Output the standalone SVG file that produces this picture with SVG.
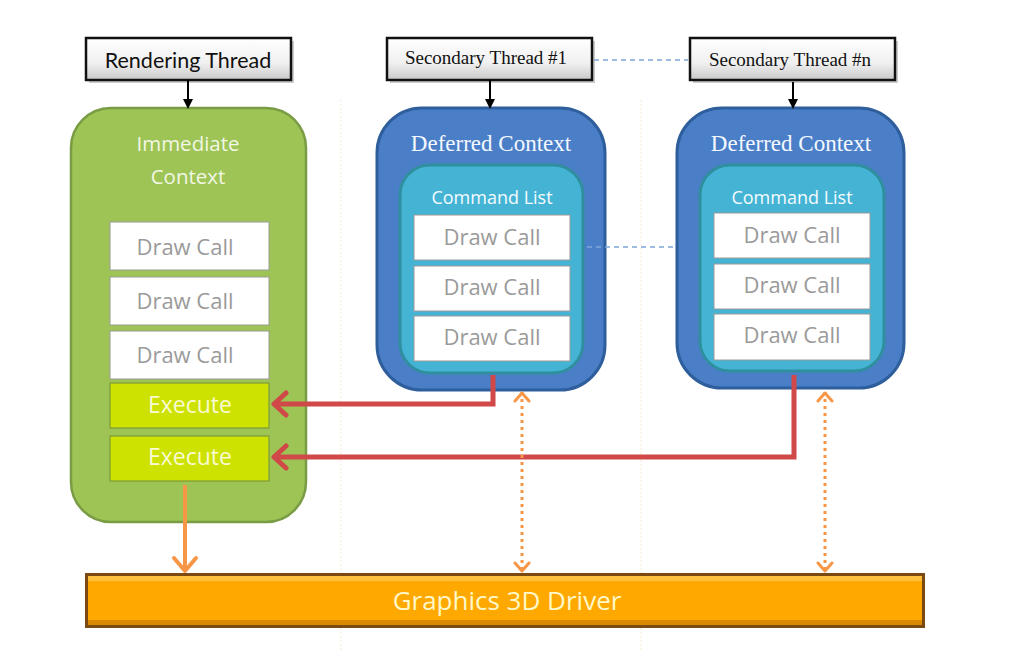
<svg xmlns="http://www.w3.org/2000/svg" width="1029" height="670" viewBox="0 0 1029 670">
<defs>
<linearGradient id="thr" x1="0" y1="0" x2="0" y2="1">
<stop offset="0" stop-color="#ffffff"/><stop offset="0.6" stop-color="#f0f0f0"/><stop offset="1" stop-color="#c8c8c8"/>
</linearGradient>
<marker id="blk" markerWidth="10" markerHeight="10" refX="5" refY="5" orient="auto" markerUnits="userSpaceOnUse">
<path d="M0,0 L10,5 L0,10 z" fill="#000"/>
</marker>
<marker id="red" markerWidth="22" markerHeight="28" refX="18" refY="14" orient="auto" markerUnits="userSpaceOnUse">
<path d="M6,3 L18,14 L6,25" fill="none" stroke="#d04848" stroke-width="5" stroke-linecap="round" stroke-linejoin="round"/>
</marker>
<marker id="org" markerWidth="24" markerHeight="28" refX="19" refY="14" orient="auto" markerUnits="userSpaceOnUse">
<path d="M6,3 L19,14 L6,25" fill="none" stroke="#f79646" stroke-width="4" stroke-linecap="round" stroke-linejoin="round"/>
</marker>
<marker id="orgd" markerWidth="20" markerHeight="18" refX="16" refY="9" orient="auto-start-reverse" markerUnits="userSpaceOnUse">
<path d="M7,2 L15,9 L7,16" fill="none" stroke="#f79646" stroke-width="3" stroke-linecap="round" stroke-linejoin="round"/>
</marker>
</defs>
<style>
.thr{fill:url(#thr);stroke:#111;stroke-width:2.5}
.ts{font-family:Lato,"Liberation Sans",sans-serif;font-size:21.5px;fill:#111;text-anchor:middle}
.tserif{font-family:"Liberation Serif",serif;font-size:19px;fill:#111;text-anchor:middle}
.dc{fill:#fff;stroke:#9a9a9a;stroke-width:1}
.dct{font-family:"Open Sans","Liberation Sans",sans-serif;font-size:22px;fill:#9a9a9a;text-anchor:middle}
.ex{fill:#cde200;stroke:#7e9a3a;stroke-width:1.2}
.ext{font-family:"Open Sans","Liberation Sans",sans-serif;font-size:23px;fill:#fafad2;text-anchor:middle}
.dcx{fill:#4a7fc8;stroke:#2f5e9c;stroke-width:3}
.cl{fill:#45b4d4;stroke:#2f8f9f;stroke-width:3}
.dctit{font-family:"Liberation Serif",serif;font-size:23px;fill:#f4f8ff;text-anchor:middle}
.clt{font-family:"Open Sans","Liberation Sans",sans-serif;font-size:18px;fill:#f4fbff;text-anchor:middle}
.imt{font-family:"Open Sans","Liberation Sans",sans-serif;font-size:20.5px;fill:#f2f6e4;text-anchor:middle}
.sep{stroke:#f6ecd2;stroke-width:1;stroke-dasharray:2 2;fill:none}
</style>
<rect x="0" y="0" width="1029" height="670" fill="#fff"/>
<line class="sep" x1="341" y1="100" x2="341" y2="650"/>
<line class="sep" x1="641" y1="100" x2="641" y2="650"/>

<g id="rendering-thread">
<rect x="89" y="41" width="205" height="42" fill="#999" opacity="0.5"/>
<rect class="thr" x="86" y="38" width="205" height="42"/>
<text class="ts" x="188" y="68">Rendering Thread</text>
</g>
<g id="secondary-thread-1">
<rect x="390" y="41" width="205" height="42" fill="#999" opacity="0.5"/>
<rect class="thr" x="387" y="38" width="205" height="42"/>
<text class="tserif" x="486" y="64">Secondary Thread #1</text>
</g>
<g id="secondary-thread-n">
<rect x="693" y="41" width="205" height="42" fill="#999" opacity="0.5"/>
<rect class="thr" x="690" y="38" width="205" height="42"/>
<text class="tserif" x="790" y="66">Secondary Thread #n</text>
</g>

<g id="immediate-context">
<rect x="71" y="108" width="235" height="414" rx="40" fill="#9dc455" stroke="#7a9c44" stroke-width="2.5"/>
<text class="imt" x="188" y="151">Immediate</text>
<text class="imt" x="188" y="184">Context</text>
<rect class="dc" x="110" y="222" width="159" height="48"/>
<text class="dct" x="185" y="255">Draw Call</text>
<rect class="dc" x="110" y="277" width="159" height="48"/>
<text class="dct" x="185" y="309">Draw Call</text>
<rect class="dc" x="110" y="331" width="159" height="48"/>
<text class="dct" x="185" y="363">Draw Call</text>
<rect class="ex" x="110" y="383" width="159" height="45"/>
<text class="ext" x="190" y="413">Execute</text>
<rect class="ex" x="110" y="436" width="159" height="45"/>
<text class="ext" x="190" y="465">Execute</text>
</g>

<g id="deferred-context-1">
<rect class="dcx" x="377" y="108" width="228" height="282" rx="45"/>
<text class="dctit" x="491" y="151">Deferred Context</text>
<rect class="cl" x="400" y="165" width="183" height="208" rx="30"/>
<text class="clt" x="492" y="204">Command List</text>
<rect class="dc" x="414" y="215" width="156" height="45"/>
<text class="dct" x="492" y="245">Draw Call</text>
<rect class="dc" x="414" y="266" width="156" height="45"/>
<text class="dct" x="492" y="295">Draw Call</text>
<rect class="dc" x="414" y="316" width="156" height="45"/>
<text class="dct" x="492" y="345">Draw Call</text>
</g>

<g id="deferred-context-n">
<rect class="dcx" x="677" y="108" width="227" height="280" rx="45"/>
<text class="dctit" x="791" y="151">Deferred Context</text>
<rect class="cl" x="700" y="165" width="184" height="206" rx="30"/>
<text class="clt" x="792" y="204">Command List</text>
<rect class="dc" x="714" y="213" width="156" height="45"/>
<text class="dct" x="792" y="243">Draw Call</text>
<rect class="dc" x="714" y="264" width="156" height="45"/>
<text class="dct" x="792" y="293">Draw Call</text>
<rect class="dc" x="714" y="314" width="156" height="46"/>
<text class="dct" x="792" y="343">Draw Call</text>
</g>

<g id="graphics-driver">
<rect x="85" y="573" width="840" height="55" fill="#7a4a12"/>
<rect x="88" y="576" width="834" height="49" fill="#ffa800"/>
<rect x="88" y="576" width="834" height="5" fill="#ffc040"/>
<rect x="88" y="620" width="834" height="5" fill="#d98a00"/>
<text x="507" y="610" font-family="'Open Sans','Liberation Sans',sans-serif" font-size="26" fill="#fff8c8" text-anchor="middle">Graphics 3D Driver</text>
</g>

<g id="connectors">
<line x1="188" y1="80" x2="188" y2="104" stroke="#000" stroke-width="2" marker-end="url(#blk)"/>
<line x1="490" y1="80" x2="490" y2="104" stroke="#000" stroke-width="2" marker-end="url(#blk)"/>
<line x1="793" y1="82" x2="793" y2="104" stroke="#000" stroke-width="2" marker-end="url(#blk)"/>
<line x1="594" y1="60" x2="688" y2="60" stroke="#7fa6d8" stroke-width="1.5" stroke-dasharray="5 4"/>
<line x1="587" y1="247" x2="676" y2="247" stroke="#7fa6d8" stroke-width="1.5" stroke-dasharray="5 4"/>
<path d="M493,375 L493,404 L274,404" fill="none" stroke="#d04848" stroke-width="5" marker-end="url(#red)"/>
<path d="M794,375 L794,457 L274,457" fill="none" stroke="#d04848" stroke-width="5" marker-end="url(#red)"/>
<line x1="185" y1="485" x2="185" y2="571" stroke="#f79646" stroke-width="4" marker-end="url(#org)"/>
<line x1="522" y1="392" x2="522" y2="572" stroke="#f79646" stroke-width="3" stroke-dasharray="3 4" marker-start="url(#orgd)" marker-end="url(#orgd)"/>
<line x1="825" y1="392" x2="825" y2="572" stroke="#f79646" stroke-width="3" stroke-dasharray="3 4" marker-start="url(#orgd)" marker-end="url(#orgd)"/>
</g>
</svg>
